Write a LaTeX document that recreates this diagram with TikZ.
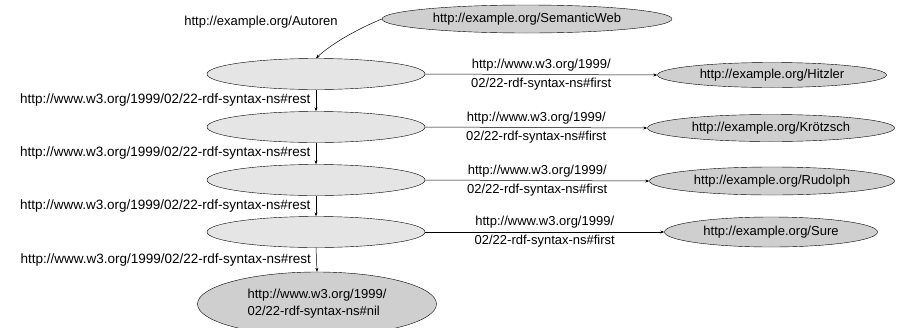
\documentclass[tikz,border=0pt]{standalone}
\usepackage{fontspec}
\setmainfont{Liberation Sans}
\usetikzlibrary{shapes.geometric,arrows.meta}
\begin{document}
\begin{tikzpicture}[x=1pt,y=-1pt,
  blank/.style={ellipse,draw,fill=black!10,inner sep=0pt,minimum width=218pt,minimum height=31pt},
  named/.style={ellipse,draw,fill=black!19,inner sep=0pt,minimum height=28pt},
  arr/.style={-{Stealth[length=4pt,width=3pt]},line width=0.5pt},
  lbl/.style={font=\fontsize{13}{19}\selectfont,align=center},
  restlbl/.style={anchor=east,xshift=-2pt,font=\fontsize{13.5}{15}\selectfont},
  every node/.style={font=\fontsize{13}{15}\selectfont}]
\useasboundingbox (0,0) rectangle (904,327);
\node[named,minimum width=290pt] (sw) at (527,19) {http://example.org/SemanticWeb};
\node[blank] (b1) at (316,74) {};
\node[blank] (b2) at (316,127) {};
\node[blank] (b3) at (316,180) {};
\node[blank] (b4) at (316,232) {};
\node[named,minimum width=239pt,minimum height=64pt,align=left,font=\fontsize{13}{17}\selectfont] (nil) at (317,304) {http://www.w3.org/1999/\\02/22-rdf-syntax-ns\#nil};
\node[named,minimum width=229pt,minimum height=25pt] (h) at (772,75) {http://example.org/Hitzler};
\node[named,minimum width=247pt,minimum height=27pt] (k) at (771,128) {http://example.org/Krötzsch};
\node[named,minimum width=245pt,minimum height=28pt] (r) at (772,181) {http://example.org/Rudolph};
\node[named,minimum width=213pt,minimum height=30pt] (s) at (771,232) {http://example.org/Sure};
\node (aut) at (261,22) {http://example.org/Autoren};
\draw[arr] (sw.west) .. controls (355,30) and (330,45) .. (b1.north);
\foreach \a/\t in {b1/h,b2/k,b3/r,b4/s}{
  \draw[arr] (\a.east) -- node[lbl] {http://www.w3.org/1999/\\02/22-rdf-syntax-ns\#first} (\t.west);
}
\foreach \a/\b in {b1/b2,b2/b3,b3/b4,b4/nil}{
  \draw[arr] (\a.south) -- node[restlbl] {http://www.w3.org/1999/02/22-rdf-syntax-ns\#rest} (\b.north);
}
\end{tikzpicture}
\end{document}
